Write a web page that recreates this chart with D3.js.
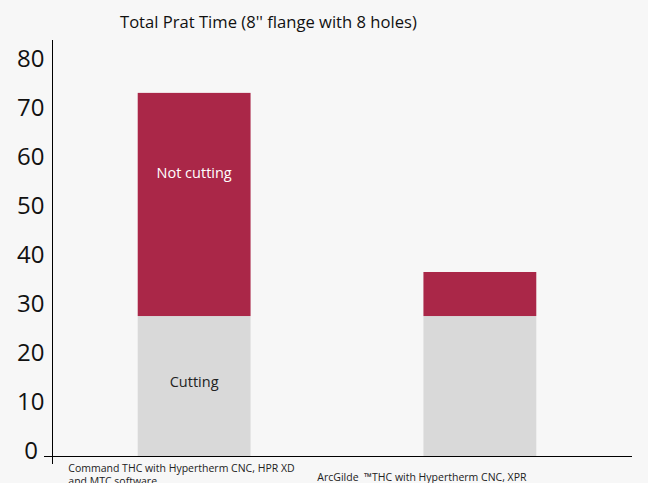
<!DOCTYPE html>
<html><head><meta charset="utf-8">
<script src="https://cdn.jsdelivr.net/npm/d3@7"></script>
<style>
html,body{margin:0;padding:0;background:#f7f7f7;}
svg{display:block;}
</style></head>
<body>
<svg id="c" width="648" height="483"></svg>
<script>
const title = "Total Prat Time (8'' flange with 8 holes)";
const categories = ["Command THC with Hypertherm CNC, HPR XD|and MTC software", "ArcGilde\u00a0 \u2122THC with Hypertherm CNC, XPR"];
const cutting = [28.6, 28.6];
const notCutting = [45.6, 9.0];
const yTicks = [0, 10, 20, 30, 40, 50, 60, 70, 80];
const segLabels = ["Cutting", "Not cutting"];

const svg = d3.select("#c");
svg.append("rect").attr("width",648).attr("height",483).attr("fill","#f7f7f7");

const x = d3.scaleBand().domain(categories).range([52, 622]).paddingInner(0.605).paddingOuter(0.3);
const y = d3.scaleLinear().domain([0, 80]).range([456, 64.5]);

// stacked bars
const stackData = categories.map((c,i)=>({cat:c, cutting:cutting[i], notCutting:notCutting[i]}));
const series = d3.stack().keys(["cutting","notCutting"])(stackData);
const colors = {cutting:"#d9d9d9", notCutting:"#aa2748"};
series.forEach(s=>{
  svg.append("g").selectAll("rect").data(s).join("rect")
    .attr("x", d=>x(d.data.cat))
    .attr("width", x.bandwidth())
    .attr("y", d=>y(d[1]))
    .attr("height", d=>y(d[0])-y(d[1]))
    .attr("fill", colors[s.key]);
});

// segment labels on first bar
const b0 = stackData[0];
svg.append("text").attr("x", x(b0.cat)+x.bandwidth()/2)
  .attr("y", (y(0)+y(b0.cutting))/2 - 5)
  .attr("text-anchor","middle").attr("dominant-baseline","central")
  .attr("font-family","Open Sans").attr("font-size",14.5).attr("fill","#222")
  .text(segLabels[0]);
svg.append("text").attr("x", x(b0.cat)+x.bandwidth()/2)
  .attr("y", y(b0.cutting + b0.notCutting*0.645))
  .attr("text-anchor","middle").attr("dominant-baseline","central")
  .attr("font-family","Open Sans").attr("font-size",14.5).attr("fill","#fff")
  .text(segLabels[1]);

// axes lines
svg.append("line").attr("x1",52.5).attr("x2",52.5).attr("y1",40).attr("y2",464)
  .attr("stroke","#000").attr("stroke-width",1);
svg.append("line").attr("x1",44).attr("x2",632).attr("y1",456.5).attr("y2",456.5)
  .attr("stroke","#000").attr("stroke-width",1);

// y tick labels
svg.append("g").selectAll("text").data(yTicks).join("text")
  .attr("x", 44.5).attr("y", d=>y(d)+2.5)
  .attr("dx", d=> d===0 ? -6.5 : 0)
  .attr("text-anchor","end")
  .attr("font-family","Open Sans").attr("font-size",24)
  .attr("fill","#111").text(d=>d);

// x labels
const xl = svg.append("g").attr("font-family","Open Sans").attr("font-size",10.5).attr("fill","#222");
const offsets = [-69.4, -106.1];
const baseY = [472.3, 481];
categories.forEach((c,i)=>{
  const lines = c.split("|");
  const t = xl.append("text").attr("text-anchor","start").style("white-space","pre");
  lines.forEach((ln,j)=>{
    t.append("tspan").attr("x", x(c)+offsets[i]).attr("y", baseY[i]+j*12.5).text(ln);
  });
});

// title
svg.append("text").attr("x",120).attr("y",27.7).attr("text-anchor","start")
  .attr("font-family","Open Sans").attr("font-size",16.6).attr("fill","#111").text(title);
</script>
</body></html>
